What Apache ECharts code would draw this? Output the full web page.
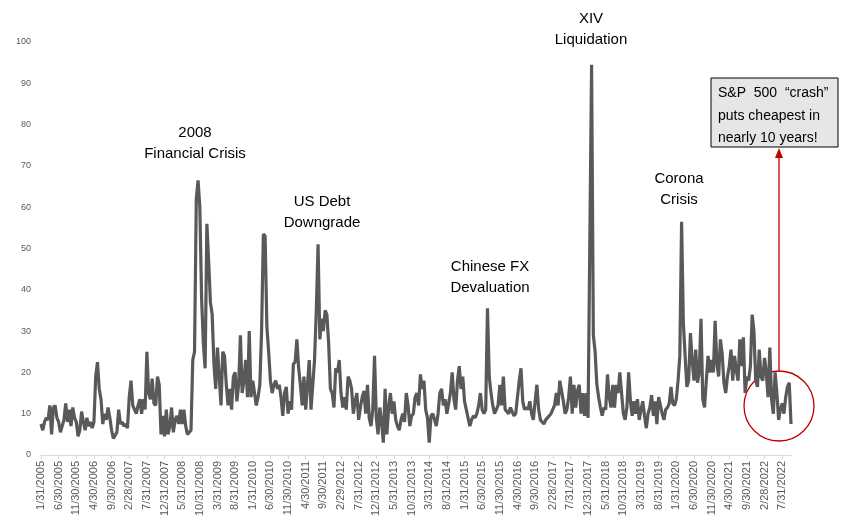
<!DOCTYPE html>
<html>
<head>
<meta charset="utf-8">
<script src="https://cdn.jsdelivr.net/npm/echarts@6/dist/echarts.min.js"></script>
<style>
  html, body { margin: 0; padding: 0; background: #fff; }
  #main { width: 851px; height: 531px; }
</style>
</head>
<body>
<div id="main"></div>
<script>
// two readings per month: month-end and mid-month, starting 1/31/2005
var startYear = 2005;
var vals = [
    7.5, 6, 8, 9, 8.5, 12, 5, 11.5, 12, 9,
    8, 5.5, 7, 8.5, 12.5, 8, 11, 7, 11.5, 9,
    8, 4.5, 6, 10.5, 8, 6, 9, 7, 8, 6.5,
    8, 19, 22.5, 16, 13.5, 7.5, 10, 8.5, 11.5, 9,
    6, 4, 3.8, 5.5, 11, 7.5, 8, 7, 7.5, 6.5,
    14, 18, 12, 11, 10, 12, 13.5, 10, 13.5, 11,
    25, 15, 13.5, 18.5, 12.5, 12, 19, 17, 5, 9.5,
    4.5, 11, 5, 7, 11.5, 5.5, 8.5, 9.5, 7.5, 11,
    7.5, 11, 7, 5, 5, 6, 23, 25, 62, 66.5,
    60, 38, 27, 21, 56, 47, 37, 34, 22, 16,
    26, 19, 12, 25, 24, 17, 12, 16, 11, 19,
    20, 13, 17, 29, 15, 18, 23, 14, 30, 14,
    18, 15, 12, 14, 17, 30, 53.5, 53, 31, 25,
    18, 15, 17, 18, 16, 17, 14, 9.5, 15, 16.5,
    10, 13, 11, 22, 22.5, 28, 21, 17, 12, 19,
    11, 17, 23, 11, 17, 23, 35, 51, 28, 33,
    30, 35, 34, 27, 16, 15, 11.5, 21, 20, 23,
    15, 11.5, 14, 11, 19, 18, 16, 10, 13, 15,
    8.5, 11.5, 14, 15.5, 10, 17, 9, 7, 11, 24,
    9, 5, 11.5, 8, 3, 16, 5, 11.5, 15, 10,
    13, 8.5, 7, 6, 8.5, 10, 8, 15, 12, 7,
    9.5, 10, 14, 15, 12, 19.5, 16, 18, 11, 9,
    3, 9.5, 10, 8.5, 7, 10, 15, 16, 12, 13.5,
    10, 12.5, 15, 20, 13.5, 11, 18, 21.5, 16, 19,
    13, 11, 9, 7, 8.5, 9.5, 9, 10, 12, 15,
    11, 10, 11, 35.5, 19, 15, 12, 10, 11, 12,
    17, 12, 19, 11, 10.5, 10, 11.5, 10.5, 9.5, 10,
    10, 18, 21, 13, 11, 11.5, 11, 13, 10, 8.5,
    13, 17, 11, 8.5, 8, 7.5, 8.5, 8.5, 9.5, 10,
    10, 12, 15, 12, 18, 15.5, 13, 10, 11, 14,
    19, 10, 17, 11.5, 15.5, 17, 10, 15, 9.5, 15,
    9, 9, 94.5, 29, 25, 17, 14, 11.5, 9.5, 11.5,
    11, 19.5, 14, 11.5, 17, 11.5, 17, 15, 20, 15,
    10, 8.5, 11.5, 20, 13, 9.5, 13, 10, 13.5, 8.5,
    11, 13, 9.5, 6.5, 10, 11.5, 14.5, 9.5, 13, 7.5,
    14, 14, 10, 8.5, 11, 11.5, 12.5, 16.5, 12.5, 12,
    13.5, 18, 24, 56.5, 32, 24, 16.5, 18, 29.5, 23,
    18, 25.5, 17.5, 20, 33, 13.5, 11.5, 18, 24, 20,
    23, 20, 32.5, 22, 19, 28, 24.5, 17.5, 15, 19,
    21.5, 25.5, 18, 24, 20.5, 18, 28, 21.5, 28.5, 15,
    19, 18, 21.5, 34, 30, 18, 16.5, 25.5, 19, 18,
    23.5, 20, 14, 26, 13.5, 10, 20, 15, 8.5, 11,
    12.5, 10, 14, 16.5, 17.5, 7.5
];

// dates for each reading (labels shown every 5 months)
var dates = [];
for (var i = 0; i < vals.length; i++) {
    var m = Math.floor(i / 2) + (i % 2);
    var y = startYear + Math.floor(m / 12);
    var mo = m % 12;
    var day = (i % 2 === 0) ? new Date(y, mo + 1, 0).getDate() : 15;
    dates.push((mo + 1) + '/' + day + '/' + y);
}

var events = [
    {text: '2008\nFinancial Crisis', x: 195, y: 122},
    {text: 'US Debt\nDowngrade', x: 322, y: 191},
    {text: 'Chinese FX\nDevaluation', x: 490, y: 256},
    {text: 'XIV\nLiquidation', x: 591, y: 8},
    {text: 'Corona\nCrisis', x: 679, y: 168}
];

var labelEvery = function (idx) { return idx % 10 === 0; };

var myChart = echarts.init(document.getElementById('main'));

var graphics = [];
for (var k = 0; k < events.length; k++) {
    graphics.push({
        type: 'text', x: events[k].x, y: events[k].y,
        style: {
            text: events[k].text, align: 'center', verticalAlign: 'top',
            fill: '#000', font: '15px "Liberation Sans"', lineHeight: 21
        }
    });
}
// callout box
graphics.push({
    type: 'rect', shape: {x: 711, y: 78, width: 127, height: 69},
    style: {fill: '#e7e6e6', stroke: '#000', lineWidth: 1}
});
graphics.push({
    type: 'text', x: 718, y: 82,
    style: {
        text: 'S&P  500  \u201ccrash\u201d\nputs cheapest in\nnearly 10 years!',
        verticalAlign: 'top',
        fill: '#000', font: '14px "Liberation Sans"', lineHeight: 22.5
    }
});
// red circle + arrow
graphics.push({
    type: 'circle', shape: {cx: 779, cy: 406, r: 35},
    style: {fill: 'none', stroke: '#c00000', lineWidth: 1.3}
});
graphics.push({
    type: 'line', shape: {x1: 779, y1: 371, x2: 779, y2: 156},
    style: {stroke: '#c00000', lineWidth: 1.3}
});
graphics.push({
    type: 'polygon', shape: {points: [[779, 148], [775, 158], [783, 158]]},
    style: {fill: '#c00000'}
});

var option = {
    animation: false,
    grid: {left: 41, right: 60, top: 42, bottom: 76},
    xAxis: {
        type: 'category',
        data: dates,
        boundaryGap: false,
        axisLine: {lineStyle: {color: '#d9d9d9'}},
        axisTick: {interval: labelEvery, length: 4, lineStyle: {color: '#d9d9d9'}},
        axisLabel: {
            interval: labelEvery, rotate: 90, margin: 6,
            color: '#595959', fontSize: 11, fontFamily: 'Liberation Sans'
        }
    },
    yAxis: {
        type: 'value', min: 0, max: 100, interval: 10,
        splitLine: {show: false},
        axisLine: {show: false},
        axisTick: {show: false},
        axisLabel: {color: '#595959', fontSize: 9, margin: 10, fontFamily: 'Liberation Sans'}
    },
    series: [{
        type: 'line',
        data: vals,
        showSymbol: false,
        sampling: 'none',
        lineStyle: {color: '#595959', width: 3.2},
        itemStyle: {color: '#595959'}
    }],
    graphic: graphics
};

myChart.setOption(option);
</script>
</body>
</html>
